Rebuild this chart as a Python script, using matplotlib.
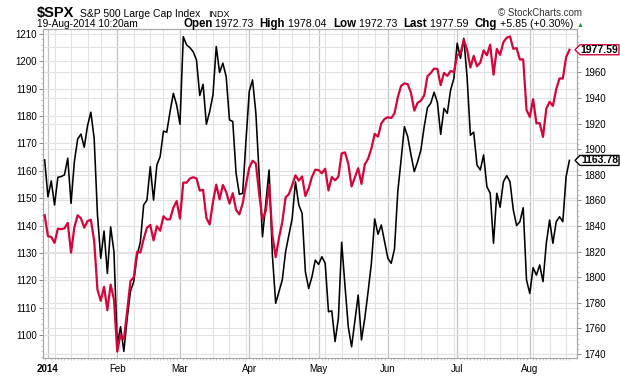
import numpy as np
import pandas as pd
import matplotlib
matplotlib.use("Agg")
import matplotlib.pyplot as plt
from matplotlib.patches import Polygon

plt.rcParams['font.family'] = ['Liberation Sans', 'DejaVu Sans']

# trading days shown on the chart
holidays = ["2014-01-01", "2014-01-20", "2014-02-17", "2014-04-18", "2014-05-26", "2014-07-04"]
days = pd.bdate_range("2013-12-31", "2014-08-19")
days = days[~days.isin(pd.to_datetime(holidays))]

# $SPX closes (right axis, red)
spx = [1848.36, 1831.98, 1831.37, 1826.77, 1837.88, 1837.49, 1838.13, 1842.37, 1819.20, 1838.88, 1848.38,
       1845.89, 1838.70, 1843.80, 1844.86, 1828.46, 1790.29, 1781.56, 1792.50, 1774.20, 1794.19, 1782.59,
       1741.89, 1755.20, 1751.64, 1773.43, 1797.02, 1799.84, 1819.75, 1819.26, 1829.83, 1838.63, 1840.76,
       1828.75, 1839.78, 1836.25, 1847.61, 1845.12, 1845.16, 1854.29, 1859.45,
       1845.73, 1873.91, 1873.81, 1877.03, 1878.04, 1877.17, 1867.63, 1868.20, 1846.34, 1841.13, 1858.83,
       1872.25, 1860.77, 1872.01, 1866.52, 1857.44, 1865.62, 1852.56, 1849.04, 1857.62, 1872.34,
       1885.52, 1890.90, 1888.77, 1865.09, 1845.04, 1851.96, 1872.18, 1833.08, 1815.69, 1830.61, 1842.98,
       1862.31, 1864.85, 1871.89, 1879.55, 1875.39, 1878.61, 1863.40, 1869.43, 1878.33, 1883.95,
       1883.68, 1881.14, 1884.66, 1867.72, 1878.21, 1875.63, 1878.48, 1896.65, 1897.45, 1888.53, 1870.85,
       1877.86, 1885.08, 1872.83, 1888.03, 1892.49, 1900.53, 1911.91, 1909.78, 1920.03, 1923.57,
       1924.97, 1924.24, 1927.88, 1940.46, 1949.44, 1951.27, 1950.79, 1943.89, 1930.11, 1936.16, 1937.78,
       1941.99, 1956.98, 1959.48, 1962.87, 1962.61, 1949.98, 1959.53, 1957.22, 1960.96, 1960.23,
       1973.32, 1974.62, 1985.44, 1977.65, 1963.71, 1972.83, 1964.68, 1967.57, 1977.10, 1973.28, 1981.57,
       1958.12, 1978.22, 1973.63, 1983.53, 1987.01, 1987.98, 1978.34, 1978.91, 1969.95, 1970.07, 1930.67,
       1925.15, 1938.99, 1920.21, 1920.24, 1909.57, 1931.59, 1936.92, 1933.75, 1946.72, 1955.18, 1955.06,
       1971.74, 1977.59]

# comparison series (left axis, black)
rut = [1164.0, 1150.5, 1156.3, 1147.5, 1157.6, 1157.9, 1158.5, 1164.6, 1148.1, 1163.3, 1171.6,
       1173.4, 1168.6, 1176.5, 1181.4, 1171.9, 1144.0, 1128.0, 1138.0, 1122.5, 1139.5, 1130.4,
       1096.5, 1103.0, 1094.0, 1106.0, 1116.0, 1119.5, 1129.0, 1134.0, 1147.5, 1149.3, 1161.5,
       1149.3, 1162.1, 1165.2, 1174.5, 1174.1, 1181.6, 1188.3, 1184.0,
       1177.0, 1209.0, 1206.0, 1205.0, 1203.5, 1200.5, 1187.5, 1191.6, 1177.0, 1181.6, 1187.7,
       1205.4, 1195.9, 1199.3, 1194.4, 1178.6, 1178.0, 1159.1, 1151.4, 1151.8, 1171.0,
       1189.0, 1193.2, 1181.0, 1158.5, 1135.9, 1148.0, 1160.3, 1129.2, 1111.6, 1115.8, 1120.1,
       1130.4, 1136.5, 1142.6, 1156.0, 1147.5, 1144.5, 1123.1, 1117.0, 1121.3, 1127.4,
       1125.8, 1128.6, 1126.2, 1108.5, 1108.8, 1097.6, 1106.1, 1133.9, 1118.0, 1103.0, 1095.7,
       1105.0, 1114.6, 1098.2, 1106.1, 1115.8, 1126.2, 1142.4, 1136.8, 1140.2, 1134.1,
       1128.0, 1126.2, 1131.4, 1152.4, 1164.0, 1176.1, 1172.5, 1165.8, 1159.7, 1163.3, 1167.6,
       1176.1, 1183.1, 1184.7, 1188.7, 1185.0, 1173.3, 1182.8, 1181.0, 1189.5, 1193.8,
       1206.6, 1201.1, 1208.4, 1194.0, 1173.0, 1174.1, 1162.1, 1160.3, 1165.8, 1154.2, 1151.8,
       1133.5, 1151.8, 1146.7, 1156.0, 1158.2, 1156.0, 1145.7, 1140.0, 1141.4, 1146.5, 1120.1,
       1115.2, 1124.6, 1121.9, 1125.6, 1119.5, 1133.5, 1142.0, 1133.5, 1141.4, 1143.2, 1141.4,
       1157.9, 1163.78]

month_labels = ["2014", "Feb", "Mar", "Apr", "May", "Jun", "Jul", "Aug"]
left_ticks = list(range(1100, 1211, 10))
right_ticks = list(range(1740, 1961, 20))
right_grid = list(range(1740, 1981, 20))

W, H = 620, 376
fig = plt.figure(figsize=(6.2, 3.76), dpi=100)
L, R, T, B = 43, 577, 29, 358
ax = fig.add_axes([L / W, 1 - B / H, (R - L) / W, (B - T) / H])
ax2 = ax.twinx()

x = np.arange(len(days))
lo1, hi1 = 1091.6, 1211.8
lo2, hi2 = 1736.9, 1993.8
ax.set_xlim(-0.5, 161.3)
ax.set_ylim(lo1, hi1)
ax2.set_ylim(lo2, hi2)

month_idx = [i for i in range(1, len(days)) if days[i].month != days[i - 1].month]
week_idx = [i for i in range(1, len(days)) if days[i].weekday() < days[i - 1].weekday() and i not in month_idx]

# grid
for i in week_idx:
    ax.axvline(i, color='#e2e2e2', lw=0.8, zorder=0)
for i in month_idx:
    ax.axvline(i, color='#c4c4c4', lw=0.9, zorder=0)
for v in left_ticks:
    ax.axhline(v, color='#e2e2e2', lw=0.8, zorder=0)
for v in right_grid:
    ax.axhline(lo1 + (v - lo2) * (hi1 - lo1) / (hi2 - lo2), color='#e2e2e2', lw=0.8, zorder=0)

ax.plot(x, rut, color='black', lw=1.15, zorder=3)
ax2.plot(x, spx, color='#d2063a', lw=1.6, zorder=3)

# axes styling
for a in (ax, ax2):
    for s in a.spines.values():
        s.set_color('#a8a8a8')
        s.set_linewidth(0.8)
ax.set_yticks(left_ticks)
ax.set_yticklabels([str(v) for v in left_ticks])
ax2.set_yticks(right_ticks)
ax2.set_yticklabels([str(v) for v in right_ticks])
ax.tick_params(axis='y', labelsize=7, length=3, width=0.7, color='#888888', pad=1.5)
ax2.tick_params(axis='y', labelsize=7, length=3, width=0.7, color='#888888', pad=2)
ax.set_xticks(month_idx)
ax.set_xticklabels(month_labels)
ax.tick_params(axis='x', labelsize=7, length=0, pad=4)
ax.get_xticklabels()[0].set_fontweight('bold')
ax.set_xticks(x, minor=True)
ax.tick_params(axis='x', which='minor', length=1.5, width=0.5, color='#b0b0b0')
ax.set_yticks(np.arange(1092, 1212, 2), minor=True)
ax2.set_yticks(np.arange(1740, 1992, 4), minor=True)
ax.tick_params(axis='y', which='minor', length=1.5, width=0.5, color='#aaaaaa')
ax2.tick_params(axis='y', which='minor', length=1.5, width=0.5, color='#aaaaaa')


def price_box(axis, value, edge):
    yd = axis.transData.transform((0, value))[1]
    pts = [(575, yd), (580, yd + 5), (619, yd + 5), (619, yd - 5), (580, yd - 5)]
    pts = [(px / W, py / H) for px, py in pts]
    fig.add_artist(Polygon(pts, closed=True, transform=fig.transFigure, facecolor='white',
                           edgecolor=edge, lw=1.0, zorder=5))
    fig.text(599.5 / W, yd / H, f"{value:.2f}", ha='center', va='center', fontsize=7.5,
             fontweight='bold', color='black', zorder=6)


price_box(ax2, spx[-1], '#d2063a')
price_box(ax, rut[-1], 'black')

# header
fig.text(37 / W, 1 - 17 / H, "$SPX", fontsize=10.5, fontweight='bold', ha='left', va='baseline')
fig.text(80 / W, 1 - 17 / H, "S&P 500 Large Cap Index", fontsize=7.5, ha='left', va='baseline')
fig.text(208 / W, 1 - 17 / H, "INDX", fontsize=6.5, ha='left', va='baseline')
fig.text(582 / W, 1 - 16 / H, "\u00a9 StockCharts.com", fontsize=7, ha='right', va='baseline', color='#333333')
fig.text(37 / W, 1 - 27 / H, "19-Aug-2014 10:20am", fontsize=7.3, ha='left', va='baseline')

parts = [("Open", True), (" 1972.73  ", False), ("High", True), (" 1978.04  ", False), ("Low", True),
         (" 1972.73  ", False), ("Last", True), (" 1977.59  ", False), ("Chg", True),
         (" +5.85 (+0.30%) ", False)]
renderer = fig.canvas.get_renderer()
texts = []
for s, bold in parts:
    t = fig.text(0, 1 - 27 / H, s, fontsize=8.3 if bold else 7.7, fontweight='bold' if bold else 'normal',
                 ha='left', va='baseline')
    texts.append(t)
arrow = fig.text(0, 1 - 27 / H, "\u25b2", fontsize=5, color='#2e8b3a', ha='left', va='baseline')
widths = [t.get_window_extent(renderer).width for t in texts]
aw = arrow.get_window_extent(renderer).width
xpos = 583 - aw - sum(widths)
for t, w in zip(texts, widths):
    t.set_x(xpos / W)
    xpos += w
arrow.set_x(xpos / W)

fig.savefig("out.png", dpi=100)
